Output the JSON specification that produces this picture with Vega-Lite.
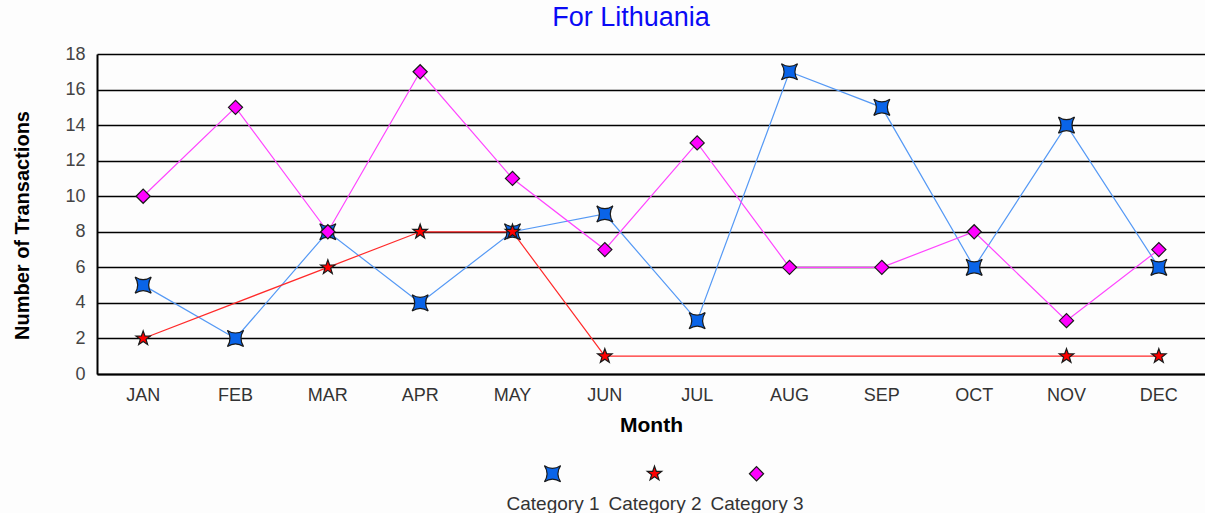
{
  "$schema": "https://vega.github.io/schema/vega-lite/v6.json",
  "autosize": {"type": "none"},
  "padding": {"left": 97, "top": 54, "right": 0, "bottom": 139},
  "width": 1108,
  "height": 320,
  "background": "#fdfdfd",
  "title": {"text": "For Lithuania", "color": "#0a0af5", "font": "Liberation Sans", "fontSize": 27, "fontWeight": "normal", "anchor": "middle", "offset": 13, "dx": -20},
  "config": {
    "view": {"stroke": null},
    "font": "Liberation Sans"
  },
  "data": {
    "values": [
      {"month": "JAN", "series": "Category 1", "value": 5},
      {"month": "FEB", "series": "Category 1", "value": 2},
      {"month": "MAR", "series": "Category 1", "value": 8},
      {"month": "APR", "series": "Category 1", "value": 4},
      {"month": "MAY", "series": "Category 1", "value": 8},
      {"month": "JUN", "series": "Category 1", "value": 9},
      {"month": "JUL", "series": "Category 1", "value": 3},
      {"month": "AUG", "series": "Category 1", "value": 17},
      {"month": "SEP", "series": "Category 1", "value": 15},
      {"month": "OCT", "series": "Category 1", "value": 6},
      {"month": "NOV", "series": "Category 1", "value": 14},
      {"month": "DEC", "series": "Category 1", "value": 6},
      {"month": "JAN", "series": "Category 2", "value": 2},
      {"month": "MAR", "series": "Category 2", "value": 6},
      {"month": "APR", "series": "Category 2", "value": 8},
      {"month": "MAY", "series": "Category 2", "value": 8},
      {"month": "JUN", "series": "Category 2", "value": 1},
      {"month": "NOV", "series": "Category 2", "value": 1},
      {"month": "DEC", "series": "Category 2", "value": 1},
      {"month": "JAN", "series": "Category 3", "value": 10},
      {"month": "FEB", "series": "Category 3", "value": 15},
      {"month": "MAR", "series": "Category 3", "value": 8},
      {"month": "APR", "series": "Category 3", "value": 17},
      {"month": "MAY", "series": "Category 3", "value": 11},
      {"month": "JUN", "series": "Category 3", "value": 7},
      {"month": "JUL", "series": "Category 3", "value": 13},
      {"month": "AUG", "series": "Category 3", "value": 6},
      {"month": "SEP", "series": "Category 3", "value": 6},
      {"month": "OCT", "series": "Category 3", "value": 8},
      {"month": "NOV", "series": "Category 3", "value": 3},
      {"month": "DEC", "series": "Category 3", "value": 7}
    ]
  },
  "encoding": {
    "x": {
      "field": "month", "type": "ordinal",
      "sort": ["JAN","FEB","MAR","APR","MAY","JUN","JUL","AUG","SEP","OCT","NOV","DEC"],
      "scale": {"type": "band", "paddingInner": 0, "paddingOuter": 0},
      "axis": {
        "title": "Month", "titleFont": "Liberation Sans", "titleFontSize": 21, "titleFontWeight": "bold", "titleColor": "#000", "titlePadding": 10,
        "labelAngle": 0, "labelFont": "Liberation Sans", "labelFontSize": 18, "labelColor": "#333", "labelPadding": 12,
        "ticks": false, "domainColor": "#000", "domainWidth": 2, "grid": false
      }
    },
    "y": {
      "field": "value", "type": "quantitative",
      "scale": {"domain": [0, 18], "nice": false},
      "axis": {
        "title": "Number of Transactions", "titleFont": "Liberation Sans", "titleFontSize": 20, "titleFontWeight": "bold", "titleColor": "#000", "titlePadding": 32, "titleY": 171,
        "values": [0,2,4,6,8,10,12,14,16,18],
        "labelFont": "Liberation Sans", "labelFontSize": 18, "labelColor": "#444", "labelPadding": 12,
        "ticks": false, "domainColor": "#000", "domainWidth": 2,
        "grid": true, "gridColor": "#000", "gridOpacity": 1, "gridWidth": 1.3
      }
    }
  },
  "layer": [
    {
      "mark": {"type": "line", "strokeWidth": 1.2},
      "encoding": {
        "color": {
          "field": "series", "type": "nominal",
          "scale": {"domain": ["Category 3","Category 2","Category 1"], "range": ["#ff44ff","#ff2a2a","#5599f5"]},
          "legend": null
        }
      }
    },
    {
      "mark": {"type": "point", "filled": true, "stroke": "#1a1a1a", "strokeWidth": 1.2, "opacity": 1},
      "encoding": {
        "fill": {
          "field": "series", "type": "nominal",
          "scale": {"domain": ["Category 1","Category 2","Category 3"], "range": ["#0a64e8","#ff0000","#ff00ff"]},
          "legend": {
            "title": null, "orient": "none", "legendX": 446, "legendY": 410, "direction": "horizontal",
            "symbolStrokeColor": "#1a1a1a", "symbolStrokeWidth": 1.2,
            "labelFont": "Liberation Sans", "labelFontSize": 19, "labelColor": "#333",
            "labelOffset": -9, "labelAlign": "center", "labelBaseline": "top",
            "labelExpr": "['', datum.label]",
            "columnPadding": 8,
            "labelLimit": 200
          }
        },
        "shape": {
          "field": "series", "type": "nominal",
          "scale": {"domain": ["Category 1","Category 2","Category 3"], "range": [
            "M-1,-1Q0,-0.35 1,-1Q0.35,0 1,1Q0,0.35 -1,1Q-0.35,0 -1,-1Z",
            "M0,-1L0.235,-0.324L0.951,-0.309L0.38,0.124L0.588,0.809L0,0.4L-0.588,0.809L-0.38,0.124L-0.951,-0.309L-0.235,-0.324Z",
            "diamond"
          ]}
        },
        "size": {
          "field": "series", "type": "nominal",
          "scale": {"domain": ["Category 1","Category 2","Category 3"], "range": [260, 200, 180]}
        }
      }
    }
  ]
}
